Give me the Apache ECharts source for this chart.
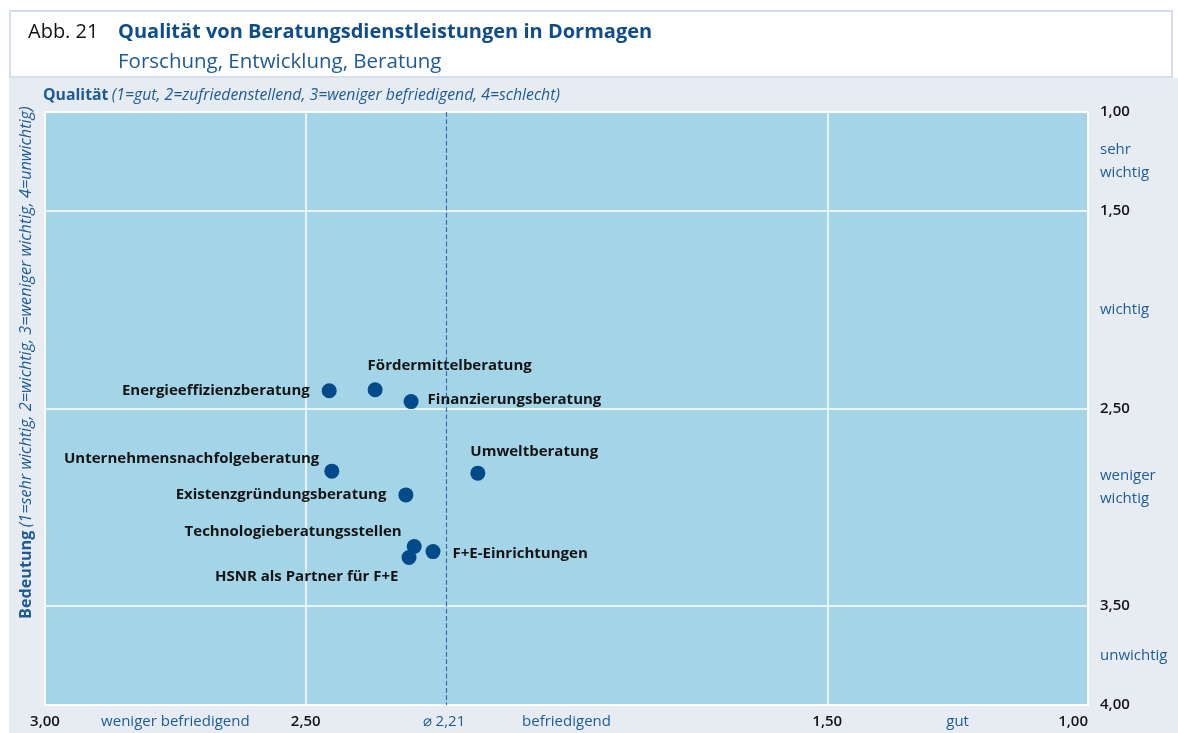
<!DOCTYPE html>
<html>
<head>
<meta charset="utf-8">
<title>Qualität von Beratungsdienstleistungen in Dormagen</title>
<script src="https://cdn.jsdelivr.net/npm/echarts@6.0.0/dist/echarts.min.js"></script>
<style>
html, body { margin: 0; padding: 0; background: #ffffff; }
#chart { width: 1178px; height: 733px; }
</style>
</head>
<body>
<div id="chart"></div>
<script>
// Beratungsdienstleistungen: Qualität (x) und Bedeutung (y)
var names = [
    'Energieeffizienzberatung',
    'Fördermittelberatung',
    'Finanzierungsberatung',
    'Unternehmensnachfolgeberatung',
    'Umweltberatung',
    'Existenzgründungsberatung',
    'Technologieberatungsstellen',
    'F+E-Einrichtungen',
    'HSNR als Partner für F+E'
];
var quality    = [2.455, 2.367, 2.298, 2.450, 2.170, 2.308, 2.292, 2.256, 2.302];
var importance = [2.41, 2.405, 2.465, 2.817, 2.827, 2.937, 3.198, 3.224, 3.254];

// Durchschnitt Qualität (gestrichelte Linie)
var avgQuality = 2.235;
var avgText = '⌀ 2,21';

// Achsenbeschriftung x
var xTicks = [3, 2.5, 1.5, 1];
var xTickText = ['3,00', '2,50', '1,50', '1,00'];
var xBandPos = [2.75, 2.0, 1.25];
var xBandText = ['weniger befriedigend', 'befriedigend', 'gut'];

// Achsenbeschriftung y
var yTicks = [1, 1.5, 2.5, 3.5, 4];
var yTickText = ['1,00', '1,50', '2,50', '3,50', '4,00'];
var yBandPos = [1.25, 2.0, 2.9, 3.75];
var yBandText = [['sehr', 'wichtig'], ['wichtig'], ['weniger', 'wichtig'], ['unwichtig']];

// label placement (side + pixel offset)
var labelSide = ['left', 'right', 'right', 'left', 'right', 'left', 'left', 'right', 'left'];
var labelShift = [[-7, 0], [-20, -24], [4, -2], [0, -12], [-20, -21], [-7, 0], [0, -15], [7, 2], [2, 19]];

var blue = '#1d5b98';
var dark = '#141414';
var font = 'Open Sans';

function fmt(ticks, tickText, bandPos, bandText) {
    return function (value) {
        for (var i = 0; i < ticks.length; i++) {
            if (Math.abs(ticks[i] - value) < 1e-6) return '{num|' + tickText[i] + '}';
        }
        for (var j = 0; j < bandPos.length; j++) {
            if (Math.abs(bandPos[j] - value) < 1e-6) {
                var t = bandText[j];
                if (typeof t === 'string') t = [t];
                return t.map(function (s) { return '{cat|' + s + '}'; }).join('\n');
            }
        }
        if (Math.abs(value - avgQuality) < 1e-6) return '{cat|' + avgText + '}';
        return '';
    };
}

// label positions, left to right (1,00 last so it can be right-aligned)
var xLabelValues = xTicks.concat(xBandPos, [avgQuality]).sort(function (a, b) { return b - a; });

var points = names.map(function (n, i) {
    return {
        name: n,
        value: [quality[i], importance[i]],
        label: { position: labelSide[i], offset: labelShift[i] }
    };
});

var chart = echarts.init(document.getElementById('chart'));
chart.setOption({
    backgroundColor: '#ffffff',
    animation: false,
    textStyle: { fontFamily: font },
    graphic: [
        { type: 'rect', z: -10, shape: { x: 9, y: 78, width: 1169, height: 655 },
          style: { fill: '#e7ecf3' } },
        { type: 'rect', z: -10, shape: { x: 10, y: 11, width: 1162, height: 66 },
          style: { fill: '#ffffff', stroke: '#d6dee9', lineWidth: 2 } },
        { type: 'text', left: 43, top: 87,
          style: {
              text: '{b|Qualität} {i|(1=gut, 2=zufriedenstellend, 3=weniger befriedigend, 4=schlecht)}',
              rich: {
                  b: { fontFamily: font, fontSize: 15.8, fontWeight: 'bold', fill: blue },
                  i: { fontFamily: font, fontSize: 15.8, fontStyle: 'italic', fill: blue }
              }
          } },
        { type: 'text', x: 18, y: 619, rotation: Math.PI / 2,
          style: {
              text: '{b|Bedeutung} {i|(1=sehr wichtig, 2=wichtig, 3=weniger wichtig, 4=unwichtig)}',
              rich: {
                  b: { fontFamily: font, fontSize: 16.2, fontWeight: 'bold', fill: blue },
                  i: { fontFamily: font, fontSize: 16.2, fontStyle: 'italic', fill: blue }
              }
          } }
    ],
    title: [
        { text: 'Abb. 21', left: 23, top: 17,
          textStyle: { fontFamily: font, fontSize: 20, fontWeight: 'normal', color: dark } },
        { text: 'Qualität von Beratungsdienstleistungen in Dormagen', left: 113, top: 17,
          textStyle: { fontFamily: font, fontSize: 20, fontWeight: 'bold', color: '#0f4c8a' } },
        { text: 'Forschung, Entwicklung, Beratung', left: 113, top: 47,
          textStyle: { fontFamily: font, fontSize: 20.5, fontWeight: 'normal', color: blue } }
    ],
    grid: {
        left: 45, right: 90, top: 112, bottom: 28,
        show: true, backgroundColor: '#a3d4e7', borderColor: '#ffffff', borderWidth: 2
    },
    xAxis: {
        type: 'value', min: 1, max: 3, inverse: true,
        axisLine: { show: false },
        axisTick: { show: false, customValues: [2.5, 1.5] },
        splitLine: { show: true, lineStyle: { color: '#ffffff', width: 1.5 } },
        axisLabel: {
            customValues: xLabelValues,
            margin: 9,
            alignMaxLabel: 'right',
            formatter: fmt(xTicks, xTickText, xBandPos, xBandText),
            rich: {
                num: { fontFamily: font, fontSize: 15, fontWeight: 600, color: dark },
                cat: { fontFamily: font, fontSize: 15, color: blue }
            }
        }
    },
    yAxis: {
        type: 'value', min: 1, max: 4, inverse: true, position: 'right',
        axisLine: { show: false },
        axisTick: { show: false, customValues: [1.5, 2.5, 3.5] },
        splitLine: { show: true, lineStyle: { color: '#ffffff', width: 1.5 } },
        axisLabel: {
            customValues: yTicks.concat(yBandPos),
            margin: 12, align: 'left',
            formatter: fmt(yTicks, yTickText, yBandPos, yBandText),
            rich: {
                num: { fontFamily: font, fontSize: 15, fontWeight: 600, color: dark, lineHeight: 22 },
                cat: { fontFamily: font, fontSize: 15, color: blue, lineHeight: 23 }
            }
        }
    },
    series: [{
        type: 'scatter',
        symbolSize: 15,
        itemStyle: { color: '#034a8b', opacity: 1 },
        data: points,
        label: {
            show: true,
            formatter: '{b}',
            distance: 5,
            fontFamily: font, fontSize: 15, fontWeight: 'bold', color: dark
        },
        markLine: {
            silent: true, symbol: 'none',
            label: { show: false },
            lineStyle: { color: '#3d6ea6', type: 'dashed', width: 1.2 },
            data: [{ xAxis: avgQuality }]
        }
    }]
});
</script>
</body>
</html>
